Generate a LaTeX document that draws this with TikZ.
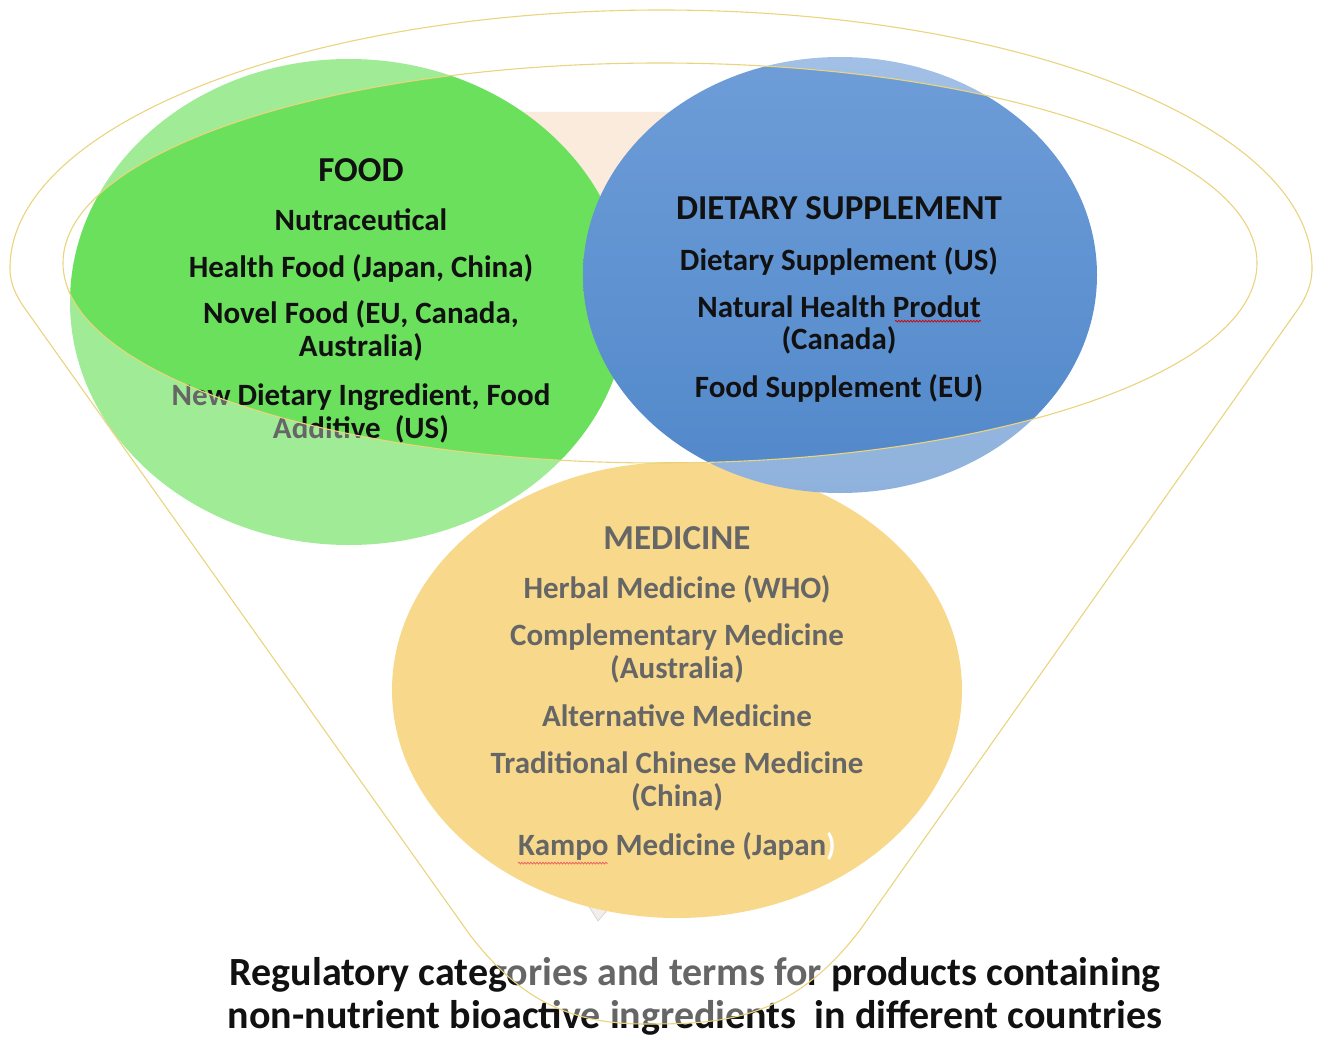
\documentclass[tikz,border=0pt]{standalone}
\usepackage{fontspec}
\setmainfont{Carlito}
\usetikzlibrary{decorations.pathmorphing}

\definecolor{foodgreen}{HTML}{6BE05C}
\definecolor{suppblueTop}{HTML}{6E9DD8}
\definecolor{suppblueBot}{HTML}{5188CA}
\definecolor{medgold}{HTML}{F5C54B}
\definecolor{wedge}{HTML}{FBEBDD}
\definecolor{tipgrey}{HTML}{ECE6DF}
\definecolor{rimline}{HTML}{EAD47E}
\definecolor{ink}{HTML}{111111}

\tikzset{
  head/.style={font=\fontsize{35}{40}\selectfont\bfseries, inner sep=0pt, text=ink},
  entry/.style={font=\fontsize{31}{33}\selectfont\bfseries, inner sep=0pt, text=ink, align=center},
  caption/.style={font=\fontsize{40}{43}\selectfont\bfseries, inner sep=0pt, text=ink, align=center},
  squiggle/.style={draw=red!85!black, line width=0.7pt, decorate,
    decoration={snake, amplitude=0.9pt, segment length=3pt}},
  outline/.style={draw=rimline, line width=1.1pt}
}

\begin{document}
\begin{tikzpicture}[x=1pt,y=-1pt]
\useasboundingbox (0,0) rectangle (1319,1038);

% pale shapes falling through the funnel, mostly hidden by the discs
\fill[wedge] (500,112) -- (720,112) -- (640,240) -- (580,240) -- cycle;
\fill[tipgrey, draw=black!25, line width=0.8pt] (560,860) -- (650,860) -- (598,921) -- cycle;

% category discs
\fill[medgold] (677,690) ellipse [x radius=285, y radius=228];
\fill[foodgreen] (349,302) ellipse [x radius=279, y radius=243];
\shade[top color=suppblueTop, bottom color=suppblueBot]
  (840,275) ellipse [x radius=257, y radius=218];

% FOOD
\node[head]  (foodH) at (361,170) {FOOD};
\node[entry] (food1) at (361,220) {Nutraceutical};
\node[entry] (food2) at (361,268) {Health Food (Japan, China)};
\node[entry] (food3) at (361,331) {Novel Food (EU, Canada,\\Australia)};
\node[entry] (food4) at (361,413) {New Dietary Ingredient, Food\\Additive\ \ (US)};

% DIETARY SUPPLEMENT
\node[head]  (suppH) at (839,208) {DIETARY SUPPLEMENT};
\node[entry] (supp1) at (839,261) {Dietary Supplement (US)};
\node[entry] (supp2a) at (839,307) {Natural Health Produt};
\node[entry] (supp2b) at (839,340) {(Canada)};
\node[entry] (supp3) at (839,388) {Food Supplement (EU)};

% MEDICINE
\node[head]  (medH) at (677,538) {MEDICINE};
\node[entry] (med1) at (677,589) {Herbal Medicine (WHO)};
\node[entry] (med2) at (677,653) {Complementary Medicine\\(Australia)};
\node[entry] (med3) at (677,716) {Alternative Medicine};
\node[entry] (med4) at (677,781) {Traditional Chinese Medicine\\(China)};
\node[entry] (med5) at (677,846) {Kampo Medicine (Japan\textcolor{white}{)}};

% spelling marks
\draw[squiggle] ([xshift=-86pt,yshift=-3pt]supp2a.south east) -- ([yshift=-3pt]supp2a.south east);
\draw[squiggle] ([yshift=-3pt]med5.south west) -- ([xshift=90pt,yshift=-3pt]med5.south west);

% caption
\node[caption] (cap) at (695,996)
  {Regulatory categories and terms for products containing\\
   non-nutrient bioactive ingredients\ \ in different countries};

% translucent funnel body, open at the rim
\fill[white, opacity=0.36, even odd rule]
  (10,268) .. controls (10,126) and (302,10) .. (661,10)
  .. controls (1020,10) and (1312,126) .. (1312,268)
  .. controls (1312,285) and (1306,298) .. (1296,312)
  -- (860,930)
  .. controls (790,1022) and (720,1024) .. (645,1024)
  .. controls (570,1024) and (520,1000) .. (470,935)
  -- (26,310)
  .. controls (16,296) and (10,284) .. (10,268) -- cycle
  (660,263) ellipse [x radius=597, y radius=200];

% funnel outlines
\draw[outline]
  (10,268) .. controls (10,126) and (302,10) .. (661,10)
  .. controls (1020,10) and (1312,126) .. (1312,268)
  .. controls (1312,285) and (1306,298) .. (1296,312)
  -- (860,930)
  .. controls (790,1022) and (720,1024) .. (645,1024)
  .. controls (570,1024) and (520,1000) .. (470,935)
  -- (26,310)
  .. controls (16,296) and (10,284) .. (10,268) -- cycle;
\draw[outline] (660,263) ellipse [x radius=597, y radius=200];
\end{tikzpicture}
\end{document}
